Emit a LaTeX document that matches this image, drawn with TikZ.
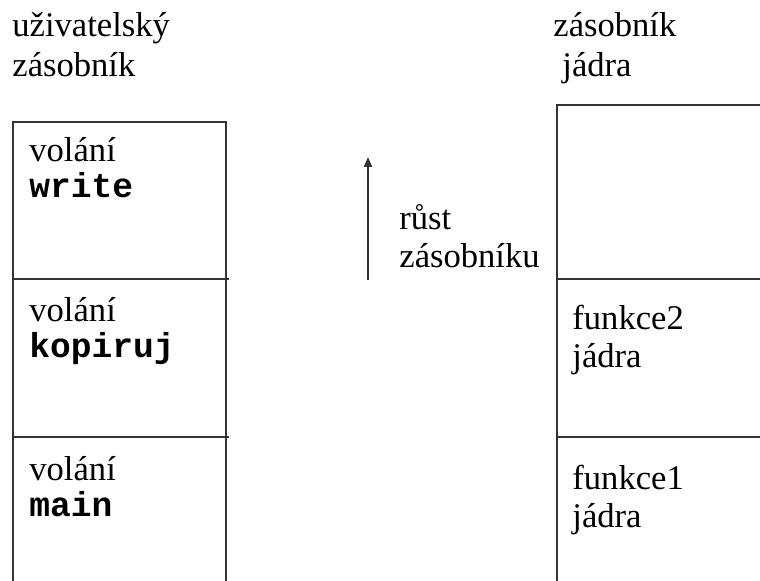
\documentclass[tikz,border=0pt]{standalone}
\usepackage{fontspec}
\setmainfont{Liberation Serif}
\setmonofont{Liberation Mono}
\usetikzlibrary{arrows.meta}
\definecolor{linka}{HTML}{333333}

\begin{document}
\begin{tikzpicture}[x=0.5pt, y=-0.5pt,
  popis/.style={anchor=base west, inner sep=0pt, align=left, font=\fontsize{17.3}{18}\selectfont},
  nadpis/.style={popis, font=\fontsize{17.3}{20}\selectfont},
  ramec/.style={draw=linka, line width=1.2pt},
  sipka/.style={-{Triangle[length=5pt, width=4pt]}, line width=0.9pt, draw=linka}]
  \useasboundingbox (0,0) rectangle (760,581);
  % nadpisy
  \node[nadpis] (uzivnadpis) at (12,77) {uživatelský\\zásobník};
  \node[nadpis] (jadronadpis) at (553,77) {zásobník\\\hspace{4.5pt}jádra};
  % uzivatelsky zasobnik
  \draw[ramec] (13,600) -- (13,122) -- (226,122) -- (226,600);
  \draw[ramec] (13,279) -- (229,279);
  \draw[ramec] (13,437) -- (229,437);
  \node[popis] (write) at (29,198) {volání\\{\ttfamily\bfseries write}};
  \node[popis] (kopiruj) at (29,358) {volání\\{\ttfamily\bfseries kopiruj}};
  \node[popis] (main) at (29,517) {volání\\{\ttfamily\bfseries main}};
  % rust zasobniku
  \coordinate (rustdole) at (368,280);
  \coordinate (rustnahore) at (368,157);
  \draw[sipka] (rustdole) -- (rustnahore);
  \node[popis, font=\fontsize{17.3}{19}\selectfont] (rust) at (399,268) {růst\\zásobníku};
  % zasobnik jadra
  \draw[ramec] (557,600) -- (557,105) -- (780,105);
  \draw[ramec] (557,279) -- (780,279);
  \draw[ramec] (557,437) -- (780,437);
  \node[popis, font=\fontsize{17.3}{19}\selectfont] (funkce2) at (572,368) {funkce2\\jádra};
  \node[popis, font=\fontsize{17.3}{19}\selectfont] (funkce1) at (572,528) {funkce1\\jádra};
\end{tikzpicture}
\end{document}
